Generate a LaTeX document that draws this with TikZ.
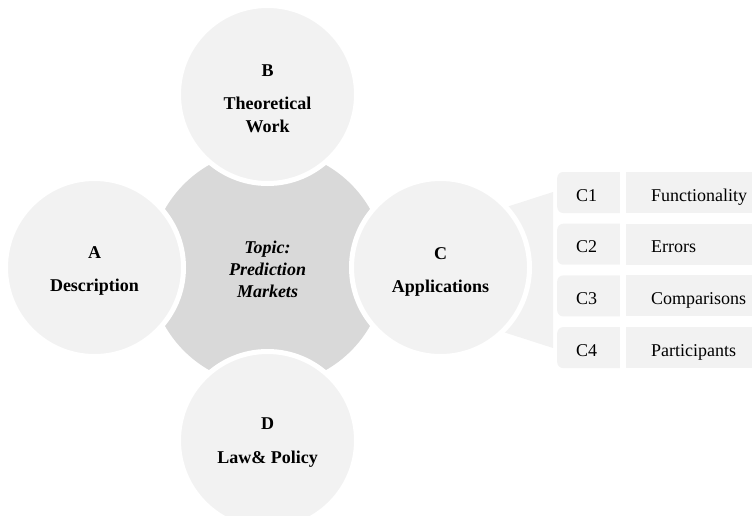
\documentclass[tikz,border=0pt]{standalone}
\usepackage{fontspec}
\setmainfont{Liberation Serif}
\definecolor{light}{HTML}{F2F2F2}
\definecolor{mid}{HTML}{D9D9D9}
\begin{document}
\begin{tikzpicture}[x=1pt,y=-1pt,
  circ/.style={circle,fill=light,draw=white,line width=5pt,minimum size=178pt,inner sep=0pt},
  hub/.style={circle,fill=mid,minimum size=236pt,inner sep=0pt},
  big/.style={font=\fontsize{18}{22}\selectfont\bfseries,anchor=base,inner sep=0pt},
  mainit/.style={font=\fontsize{18}{22}\selectfont\bfseries\itshape,anchor=base,inner sep=0pt},
  small/.style={font=\fontsize{18}{22}\selectfont,anchor=base west,inner sep=0pt},
  codebox/.style={rectangle,rounded corners=6pt,fill=light,minimum width=73pt,minimum height=41pt,inner sep=0pt,anchor=west},
  namebox/.style={rectangle,fill=light,draw=white,line width=6pt,minimum width=160pt,minimum height=47pt,inner sep=0pt,anchor=west}]
\useasboundingbox (0,0) rectangle (752,516);
% callout behind C
\coordinate (t1) at (441,228);
\coordinate (t2) at (553,192);
\coordinate (t3) at (553,348);
\coordinate (t4) at (441,312);
\fill[light] (t1) -- (t2) -- (t3) -- (t4) -- cycle;
% hub
\node[hub] (hub) at (267.5,267.5) {};
% satellites
\node[circ] (A) at (94.5,267.5) {};
\node[circ] (B) at (267.5,94.5) {};
\node[circ] (C) at (440.5,267.5) {};
\node[circ] (D) at (267.5,440.5) {};
% texts
\node[mainit] (h1) at (267.5,253) {Topic:};
\node[mainit] (h2) at (267.5,275) {Prediction};
\node[mainit] (h3) at (267.5,297) {Markets};
\node[big] (a1) at (94.5,258) {A};
\node[big] (a2) at (94.5,291) {Description};
\node[big] (b1) at (267.5,77) {B};
\node[big] (b2) at (267.5,110) {Theoretical};
\node[big] (b3) at (267.5,132) {Work};
\node[big] (c1) at (440.5,259) {C};
\node[big] (c2) at (440.5,292) {Applications};
\node[big] (d1) at (267.5,429) {D};
\node[big] (d2) at (267.5,463) {Law\& Policy};
% table rows
\foreach \i/\code/\name in {0/C1/Functionality,1/C2/Errors,2/C3/Comparisons,3/C4/Participants}{
  \pgfmathsetmacro{\yc}{192.5+\i*51.7}
  \node[codebox] (k\i) at (557,\yc) {};
  \node[namebox] (n\i) at (620,\yc) {};
  \node[small] (kt\i) at (576,\yc+8.5) {\code};
  \node[small] (nt\i) at (651,\yc+8.5) {\name};
}
\end{tikzpicture}
\end{document}
